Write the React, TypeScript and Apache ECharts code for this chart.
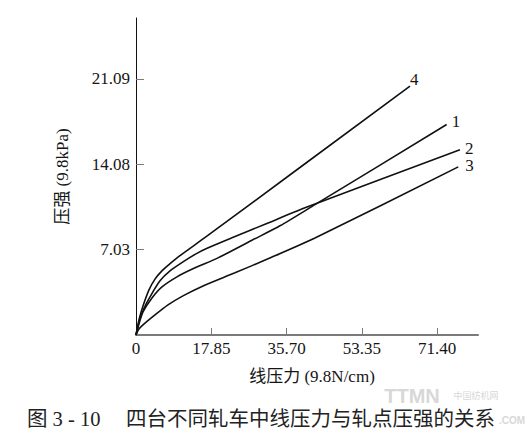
import React, { useEffect, useRef } from "react";
import * as echarts from "echarts";

const xTickLabels = ["0", "17.85", "35.70", "53.35", "71.40"];
const xTickStep = 17.85;
const yTickLabels = ["7.03", "14.08", "21.09"];
const yTickStep = 7.03;

const curveNames = ["1", "2", "3", "4"];
const curve1: [number, number][] = [
  [0, 0], [0.7, 0.9], [1.66, 1.9], [3.79, 3.05], [6.16, 3.96], [9.72, 4.79],
  [13.75, 5.49], [19.44, 6.35], [27.5, 7.8], [34.14, 8.99], [42.44, 10.73], [73.67, 17.33],
];
const curve2: [number, number][] = [
  [0, 0], [0.8, 1.2], [1.9, 2.2], [3.32, 3.14], [5.69, 4.46], [8.06, 5.28],
  [11.14, 6.02], [14.23, 6.68], [16.6, 7.1], [22.76, 8.0], [30.59, 9.12],
  [40.07, 10.48], [76.82, 15.26],
];
const curve3: [number, number][] = [
  [0, 0], [0.6, 0.45], [1.66, 0.83], [4.5, 1.65], [7.59, 2.48], [11.14, 3.22],
  [15.65, 4.0], [23.47, 5.12], [31.3, 6.27], [42.44, 7.98], [76.42, 13.84],
];
const curve4: [number, number][] = [
  [0, 0], [0.4, 0.75], [0.85, 1.45], [1.66, 2.39], [3.08, 3.71], [4.5, 4.6],
  [6.2, 5.3], [8.0, 5.85], [10.5, 6.55], [16.48, 8.05], [64.97, 20.49],
];
const curves = [curve1, curve2, curve3, curve4];
const labelOffsets: [number, number][] = [[1, -3], [1, -1], [3, -1], [-4, -7]];

const serif = "'Liberation Serif', 'Noto Sans CJK SC', serif";
const ink = "#151515";

export default function App() {
  const ref = useRef<HTMLDivElement>(null);
  useEffect(() => {
    if (!ref.current) return;
    document.body.style.margin = "0";
    const chart = echarts.init(ref.current, null, { renderer: "svg" });
    const xVals = xTickLabels.map((_, i) => i * xTickStep);
    const yVals = yTickLabels.map((_, i) => (i + 1) * yTickStep);
    chart.setOption({
      animation: false,
      backgroundColor: "#fff",
      grid: { left: 136, right: 54, top: 18, bottom: 101 },
      graphic: [
        {
          type: "text",
          x: 412,
          y: 396,
          z: 0,
          style: {
            text: "TTMN",
            font: "bold 20px 'Liberation Sans', sans-serif",
            fill: "#d8d8d8",
            align: "center",
            verticalAlign: "middle",
          },
        },
        {
          type: "text",
          x: 476,
          y: 395,
          z: 0,
          style: {
            text: "中国纺机网",
            font: "9px 'Noto Sans CJK SC', sans-serif",
            fill: "#d8d8d8",
            align: "center",
            verticalAlign: "middle",
          },
        },
        {
          type: "text",
          x: 512,
          y: 420,
          z: 0,
          style: {
            text: ".COM",
            font: "bold 10px 'Liberation Sans', sans-serif",
            fill: "#d8d8d8",
            align: "center",
            verticalAlign: "middle",
          },
        },
        {
          type: "text",
          x: 261,
          y: 419,
          z: 10,
          style: {
            text: "图 3 - 10　 四台不同轧车中线压力与轧点压强的关系",
            font: "20.5px 'Liberation Serif', 'Noto Sans CJK SC', serif",
            fill: "#222",
            align: "center",
            verticalAlign: "middle",
          },
        },
      ],
      xAxis: {
        type: "value",
        min: 0,
        max: 81.1,
        name: "线压力 (9.8N/cm)",
        nameLocation: "middle",
        nameGap: 33,
        nameTextStyle: { fontFamily: serif, fontSize: 17, color: ink, padding: [0, 0, 0, 10] },
        splitLine: { show: false },
        axisLine: { lineStyle: { color: "#7a7a7a", width: 2 } },
        axisTick: {
          inside: true,
          length: 7,
          customValues: xVals.slice(1),
          lineStyle: { color: "#7a7a7a", width: 1 },
        },
        axisLabel: {
          customValues: xVals,
          fontFamily: serif,
          fontSize: 17,
          color: ink,
          margin: 5,
          formatter: (v: number) => {
            const i = Math.round(v / xTickStep);
            return xTickLabels[i] ?? "";
          },
        },
      },
      yAxis: {
        type: "value",
        min: 0,
        max: 26.1,
        name: "压强 (9.8kPa)",
        nameLocation: "middle",
        nameGap: 65,
        nameRotate: 90,
        nameTextStyle: { fontFamily: serif, fontSize: 17, color: ink },
        splitLine: { show: false },
        axisLine: { show: true, lineStyle: { color: "#111", width: 1 } },
        axisTick: {
          show: true,
          inside: true,
          length: 8,
          customValues: yVals,
          lineStyle: { color: "#7a7a7a", width: 1 },
        },
        axisLabel: {
          customValues: yVals,
          fontFamily: serif,
          fontSize: 17,
          color: ink,
          margin: 6,
          formatter: (v: number) => {
            const i = Math.round(v / yTickStep) - 1;
            return yTickLabels[i] ?? "";
          },
        },
      },
      series: curves.map((d, i) => ({
        type: "line",
        name: curveNames[i],
        data: d,
        smooth: 0.25,
        showSymbol: false,
        lineStyle: { color: "#111", width: 1.6 },
        endLabel: {
          show: true,
          formatter: curveNames[i],
          fontFamily: serif,
          fontSize: 17,
          color: ink,
          distance: 4,
          offset: labelOffsets[i],
        },
      })),
    });
    return () => chart.dispose();
  }, []);
  return (
    <div
      ref={ref}
      style={{ position: "absolute", left: 0, top: 0, width: 532, height: 436 }}
    />
  );
}
